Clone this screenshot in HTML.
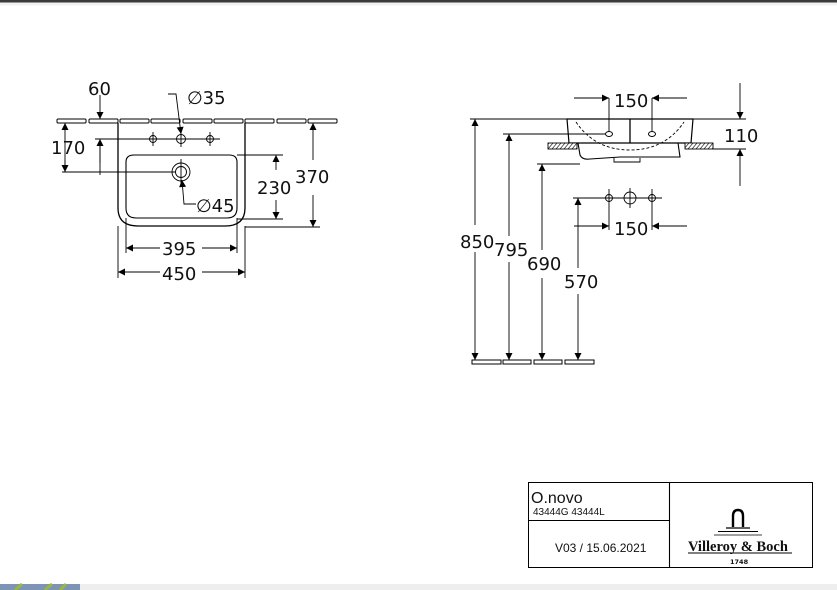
<!DOCTYPE html>
<html><head><meta charset="utf-8"><style>
html,body{margin:0;padding:0;background:#fff;}
body{width:837px;height:590px;overflow:hidden;position:relative;}
svg{position:absolute;left:0;top:0;}
text{font-family:"DejaVu Sans","Liberation Sans",sans-serif;fill:#111;}
</style></head><body>
<svg width="837" height="590" viewBox="0 0 837 590" xmlns="http://www.w3.org/2000/svg">
<defs>
<marker id="a" viewBox="0 0 10 10" refX="10" refY="5" markerWidth="10" markerHeight="7" orient="auto-start-reverse" markerUnits="userSpaceOnUse"><path d="M0,0L10,5L0,10z" fill="#000"/></marker>
<pattern id="h" width="4" height="6" patternUnits="userSpaceOnUse" patternTransform="skewX(-40)"><rect width="4" height="6" fill="#fff"/><line x1="1" y1="0" x2="1" y2="6" stroke="#000" stroke-width="0.8"/></pattern>
</defs>
<rect x="0" y="0" width="837" height="2.5" fill="#3a3a3c"/>
<rect x="0" y="2.5" width="837" height="3" fill="#f2f2f2"/>
<rect x="0" y="584" width="837" height="6" fill="#eeeeee"/>
<rect x="0" y="584" width="80" height="6" fill="#7d94b4"/>
<path d="M15,590L22,584M45,590L52,584M60,590L66,584" stroke="#9ab83a" stroke-width="3"/>

<g stroke="#000" fill="none" stroke-width="1.1">
<g stroke-width="1">
<rect x="57" y="119" width="29" height="4" rx="1"/>
<rect x="89" y="119" width="29" height="4" rx="1"/>
<rect x="120" y="119" width="29" height="4" rx="1"/>
<rect x="151" y="119" width="29" height="4" rx="1"/>
<rect x="183" y="119" width="29" height="4" rx="1"/>
<rect x="214" y="119" width="29" height="4" rx="1"/>
<rect x="245" y="119" width="29" height="4" rx="1"/>
<rect x="277" y="119" width="29" height="4" rx="1"/>
<rect x="308" y="119" width="29" height="4" rx="1"/>
</g>
<path d="M118,123V208Q118,226 138,226H225Q245,226 245,208V123" stroke-width="1.3"/>
<path d="M126,162Q126,155 134,155H229Q237,155 237,162V208Q237,218 227,218H136Q126,218 126,208Z" stroke-width="1.1"/>
<g stroke-width="0.9">
<circle cx="153" cy="139" r="3.5"/><circle cx="181" cy="139" r="4.5"/><circle cx="210" cy="139" r="3.5"/>
<circle cx="181" cy="172" r="9"/><circle cx="181" cy="172" r="5.5"/>
<line x1="153" y1="132" x2="153" y2="146"/><line x1="181" y1="131" x2="181" y2="147"/><line x1="210" y1="132" x2="210" y2="146"/>
<line x1="181" y1="159" x2="181" y2="185"/>
</g>
<g stroke-width="0.9">
<line x1="95" y1="139" x2="220" y2="139"/>
<line x1="62" y1="172" x2="175" y2="172"/>
<line x1="100" y1="95" x2="100" y2="119" marker-end="url(#a)"/>
<line x1="100" y1="163" x2="100" y2="139" marker-end="url(#a)"/>
<line x1="100" y1="139" x2="100" y2="175"/>
<line x1="65" y1="130" x2="65" y2="123" marker-end="url(#a)"/>
<line x1="65" y1="160" x2="65" y2="172" marker-end="url(#a)"/>
<line x1="65" y1="125" x2="65" y2="170"/>
<polyline points="168,94 176,94 181,134" marker-end="url(#a)"/>
<polyline points="196,204 184,204 182,180" marker-end="url(#a)"/>
<line x1="237" y1="155" x2="283" y2="155"/>
<line x1="237" y1="219" x2="283" y2="219"/>
<line x1="276" y1="170" x2="276" y2="155" marker-end="url(#a)"/>
<line x1="276" y1="200" x2="276" y2="219" marker-end="url(#a)"/>
<line x1="245" y1="227" x2="320" y2="227"/>
<line x1="313" y1="160" x2="313" y2="123" marker-end="url(#a)"/>
<line x1="313" y1="195" x2="313" y2="227" marker-end="url(#a)"/>
<line x1="126" y1="218" x2="126" y2="253"/><line x1="237" y1="218" x2="237" y2="253"/>
<line x1="118" y1="226" x2="118" y2="278"/><line x1="245" y1="226" x2="245" y2="278"/>
<line x1="160" y1="248" x2="126" y2="248" marker-end="url(#a)"/>
<line x1="202" y1="248" x2="237" y2="248" marker-end="url(#a)"/>
<line x1="160" y1="272" x2="118" y2="272" marker-end="url(#a)"/>
<line x1="202" y1="272" x2="245" y2="272" marker-end="url(#a)"/>
</g>

<line x1="470" y1="119" x2="746" y2="119" stroke-width="0.9"/>
<path d="M567,119L569,143H691L693,119Z" stroke-width="1.2"/>
<path d="M578,143L580,155Q582,160 590,159L620,157H680L678,143" stroke-width="1.1"/>
<path d="M614,158V162H640V158" stroke-width="0.9"/>
<path d="M576,122Q595,150 630,150Q665,150 684,122" stroke-dasharray="3,2" stroke-width="0.9"/>
<line x1="630" y1="119" x2="630" y2="143" stroke-width="1.3"/>
<rect x="548" y="143" width="29" height="6" fill="url(#h)" stroke-width="0.9"/>
<rect x="685" y="143" width="28" height="6" fill="url(#h)" stroke-width="0.9"/>
<ellipse cx="609" cy="134" rx="3.5" ry="2.5" stroke-width="1"/>
<ellipse cx="652" cy="134" rx="3.5" ry="2.5" stroke-width="1"/>
<g stroke-width="0.9">
<line x1="609" y1="98" x2="609" y2="131"/><line x1="652" y1="98" x2="652" y2="131"/>
<line x1="574" y1="98" x2="609" y2="98" marker-end="url(#a)"/>
<line x1="687" y1="98" x2="652" y2="98" marker-end="url(#a)"/>
<line x1="740" y1="83" x2="740" y2="119" marker-end="url(#a)"/>
<line x1="740" y1="186" x2="740" y2="149" marker-end="url(#a)"/>
<line x1="713" y1="149" x2="746" y2="149"/>
<line x1="503" y1="134" x2="605" y2="134"/>
<line x1="537" y1="164" x2="580" y2="164"/>
<line x1="475" y1="225" x2="475" y2="119" marker-end="url(#a)"/>
<line x1="475" y1="252" x2="475" y2="360" marker-end="url(#a)"/>
<line x1="509" y1="236" x2="509" y2="134" marker-end="url(#a)"/>
<line x1="509" y1="262" x2="509" y2="360" marker-end="url(#a)"/>
<line x1="542" y1="250" x2="542" y2="164" marker-end="url(#a)"/>
<line x1="542" y1="278" x2="542" y2="360" marker-end="url(#a)"/>
<line x1="578" y1="268" x2="578" y2="198" marker-end="url(#a)"/>
<line x1="578" y1="294" x2="578" y2="360" marker-end="url(#a)"/>
<line x1="573" y1="198" x2="662" y2="198"/>
<circle cx="609" cy="198" r="3.5"/><circle cx="630" cy="198" r="6"/><circle cx="652" cy="198" r="3.5"/>
<line x1="609" y1="189" x2="609" y2="230"/><line x1="630" y1="188" x2="630" y2="208"/><line x1="652" y1="189" x2="652" y2="230"/>
<line x1="574" y1="226" x2="609" y2="226" marker-end="url(#a)"/>
<line x1="687" y1="226" x2="652" y2="226" marker-end="url(#a)"/>
</g>
<g stroke-width="1">
<rect x="472" y="360" width="29" height="4"/><rect x="503" y="360" width="28" height="4"/>
<rect x="534" y="360" width="28" height="4"/><rect x="565" y="360" width="29" height="4"/>
</g>

<rect x="528.5" y="482.5" width="284" height="85" stroke-width="1"/>
<line x1="669.5" y1="482" x2="669.5" y2="568"/>
<line x1="528" y1="520.5" x2="669" y2="520.5"/>
<line x1="688" y1="553" x2="792" y2="553" stroke-width="1"/>
<path d="M733,527V516Q733,510 738,510Q743,510 743,516V527" stroke-width="2.4"/>
<line x1="726" y1="528" x2="750" y2="528" stroke-width="1.2"/>
<line x1="718" y1="531.5" x2="758" y2="531.5" stroke-width="1"/>
<line x1="714" y1="535" x2="762" y2="535" stroke-width="0.8"/>
</g>

<g font-size="18">
<text x="88" y="95">60</text>
<text x="187" y="104">∅35</text>
<text x="51" y="154">170</text>
<text x="196" y="212">∅45</text>
<text x="257" y="194">230</text>
<text x="295" y="183">370</text>
<text x="162" y="255">395</text>
<text x="162" y="280">450</text>
<text x="614" y="107">150</text>
<text x="724" y="142">110</text>
<text x="460" y="248">850</text>
<text x="494" y="256">795</text>
<text x="527" y="270">690</text>
<text x="564" y="288">570</text>
<text x="614" y="235">150</text>
</g>
<text x="531" y="503" font-size="16" style="font-family:'Liberation Sans',sans-serif">O.novo</text>
<text x="533" y="515" font-size="10" style="font-family:'Liberation Sans',sans-serif">43444G 43444L</text>
<text x="555" y="552" font-size="12" style="font-family:'Liberation Sans',sans-serif">V03 / 15.06.2021</text>
<text x="688" y="551" font-size="14.5" font-weight="bold" style="font-family:'Liberation Serif',serif">Villeroy &amp; Boch</text>
<text x="730" y="564" font-size="6.5" font-weight="bold">1748</text>
</svg>
</body></html>
